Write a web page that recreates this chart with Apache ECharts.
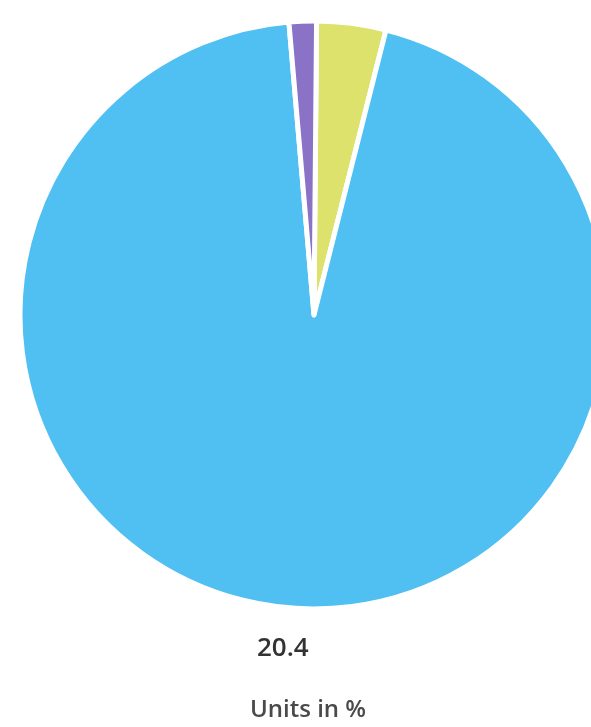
<!DOCTYPE html>
<html>
<head>
<meta charset="utf-8">
<script src="https://cdn.jsdelivr.net/npm/echarts@6/dist/echarts.min.js"></script>
<style>
html,body{margin:0;padding:0;background:#fff;}
#main{width:591px;height:727px;}
</style>
</head>
<body>
<div id="main"></div>
<script>
const categories = ['Segment A', 'Segment B', 'Segment C'];
const values = [3.8, 94.7, 1.5];
const colors = ['#DCE26C', '#50BFF1', '#8A72C6'];
const valueLabel = '20.4';
const unitLabel = 'Units in %';

const chart = echarts.init(document.getElementById('main'));
chart.setOption({
  backgroundColor: '#ffffff',
  animation: false,
  series: [{
    type: 'pie',
    center: [314, 315],
    radius: [0, 294],
    startAngle: 89.5,
    clockwise: true,
    label: { show: false },
    labelLine: { show: false },
    itemStyle: { borderColor: '#ffffff', borderWidth: 5 },
    emphasis: { disabled: true },
    data: categories.map((c, i) => ({ name: c, value: values[i], itemStyle: { color: colors[i] } }))
  }],
  graphic: [
    { type: 'text', left: 257, top: 636, style: { text: valueLabel, font: '600 26px "Open Sans", sans-serif', fill: '#333' } },
    { type: 'text', left: 250, top: 698, style: { text: unitLabel, font: '600 24px "Open Sans", sans-serif', fill: '#4a4a4a' } }
  ]
});
</script>
</body>
</html>
